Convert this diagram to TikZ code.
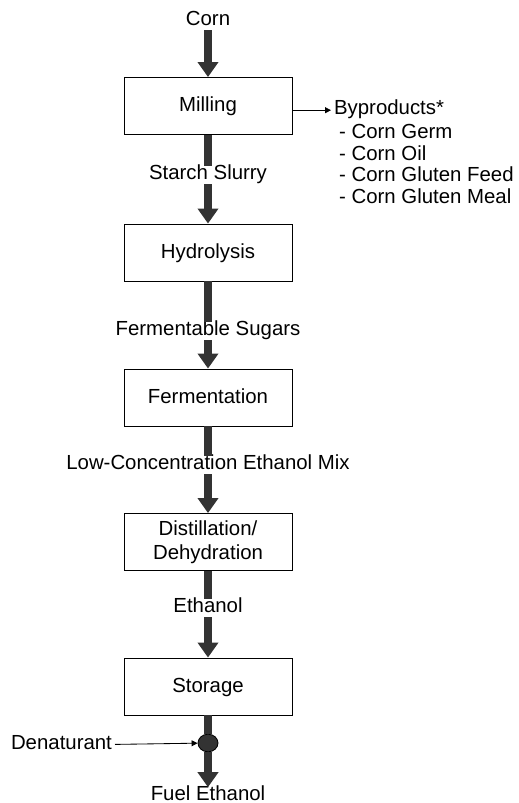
\documentclass[tikz,border=0pt]{standalone}
\usepackage{fontspec}
\setmainfont{Liberation Sans}
\usetikzlibrary{arrows.meta,positioning,shapes.geometric}
\definecolor{flowgray}{RGB}{51,51,51}
\begin{document}
\begin{tikzpicture}[x=0.025cm,y=-0.025cm,
        every node/.style={font=\fontsize{14.5}{17.4}\selectfont},
        stepbox/.style={draw,line width=0.6pt,minimum width=4.2cm,minimum height=1.425cm,inner sep=0pt,align=center,text height=1.05em,text depth=0.21em},
        streamtext/.style={anchor=base,inner xsep=2pt,inner ysep=1.4pt,text height=0.75em,text depth=0.21em},
        shaft/.style={draw=flowgray,line width=0.2cm},
        flowarrow/.style={shaft,-{Triangle[width=0.5cm,length=0.375cm]}},
        thinarrow/.style={draw=black,line width=0.6pt,-{Triangle[width=0.15cm,length=0.15cm]}}]
    \useasboundingbox (0,0) rectangle (519,803);
    \node [streamtext] (corn) at (208,25) {Corn};
    \node [stepbox] (milling) at (208,106) {Milling};
    \node [streamtext] (slurry) at (208,179) {Starch Slurry};
    \node [stepbox] (hydrolysis) at (208,252.5) {Hydrolysis};
    \node [streamtext] (sugars) at (208,335) {Fermentable Sugars};
    \node [stepbox] (fermentation) at (208,397.5) {Fermentation};
    \node [streamtext] (ethmix) at (208,469) {Low-Concentration Ethanol Mix};
    \node [stepbox,text height={},text depth={}] (distillation) at (208,542) {Distillation/\\Dehydration};
    \node [streamtext] (ethanol) at (208,612) {Ethanol};
    \node [stepbox] (storage) at (208,686.5) {Storage};
    \node [ellipse,draw=black,fill=flowgray,line width=0.6pt,minimum width=0.5cm,minimum height=0.44cm,inner sep=0pt] (blend) at (208,743) {};
    \node [streamtext] (fuel) at (208,800) {Fuel Ethanol};
    \node [streamtext,anchor=base east] (denaturant) at (115,749) {Denaturant};
    \node [streamtext,anchor=base west] (byproducts) at (331,114) {Byproducts*};
    \node [anchor=west,align=left,inner sep=2pt,font=\fontsize{14.5}{15.6}\selectfont] (bylist) at (336,164)
        {- Corn Germ\\- Corn Oil\\- Corn Gluten Feed\\- Corn Gluten Meal};
    \draw [flowarrow] (corn) -- (milling);
    \draw [shaft] (milling) -- (slurry);
    \draw [flowarrow] (slurry) -- (hydrolysis);
    \draw [shaft] (hydrolysis) -- (sugars);
    \draw [flowarrow] (sugars) -- (fermentation);
    \draw [shaft] (fermentation) -- (ethmix);
    \draw [flowarrow] (ethmix) -- (distillation);
    \draw [shaft] (distillation) -- (ethanol);
    \draw [flowarrow] (ethanol) -- (storage);
    \draw [shaft] (storage) -- (blend);
    \draw [flowarrow] (blend) -- (fuel);
    \draw [thinarrow] (denaturant) -- (blend);
    \draw [thinarrow] (milling.east |- byproducts) -- (byproducts);
\end{tikzpicture}
\end{document}
